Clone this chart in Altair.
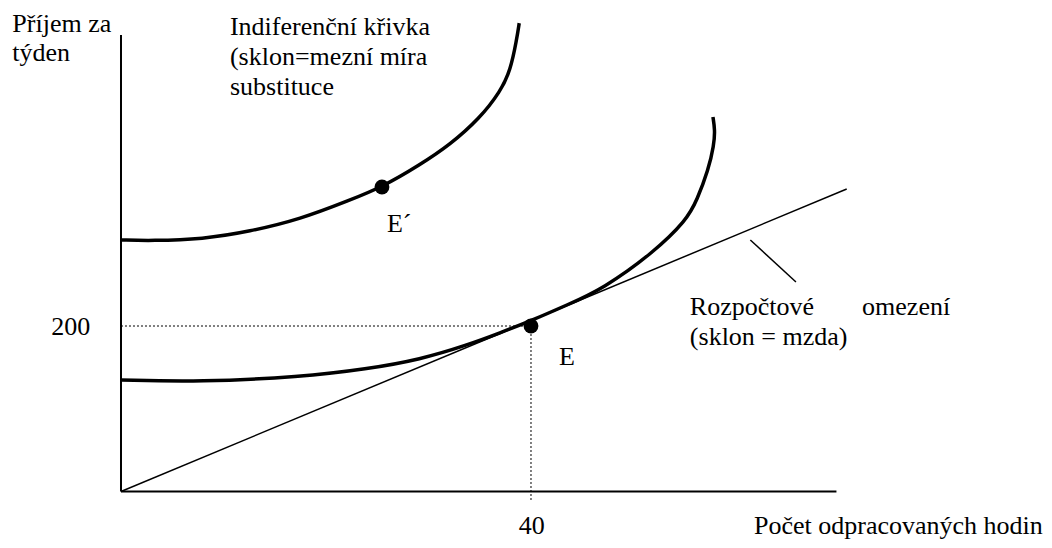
import altair as alt
import pandas as pd

# Indifference curves (hours worked, weekly income)
upper_h = [0, 3, 8, 12.5, 17.5, 22.3, 25.5, 29.2, 32.1, 35, 37, 38, 38.6, 38.85]
upper_i = [304, 303, 305, 314, 329, 352, 368, 395, 419, 451, 483, 509, 546, 566]
lower_h = [0, 7.7, 17.5, 24, 29.2, 33.8, 37, 40, 43.5, 47, 51.9, 55.2, 56.2, 57.3, 57.85, 57.95, 57.75]
lower_i = [134.7, 132.3, 138.4, 148, 159.5, 177, 191.7, 206.4, 225.3, 244.8, 288.2, 328.1, 352.3, 388.5, 418.7, 436.9, 452.6]

# Budget line end points
budget_h = [0, 70.8]
budget_i = [0, 365.6]

# Equilibrium points
pt_names = ["E´", "E"]
pt_h = [25.46, 40]
pt_i = [368, 200]

# Axes frame
axis_x = [0, 0]
axis_y = [0, 0]
axis_x2 = [0, 69.8]
axis_y2 = [551.7, 0]

# Dotted guides
guide_x = [0, 40]
guide_y = [200, 200]
guide_x2 = [40, 40]
guide_y2 = [200, -10.3]

# Pointer to budget line
ptr_x, ptr_y, ptr_x2, ptr_y2 = [61.4], [303.9], [65.85], [253.2]

# Labels
lab_text = ["Příjem za", "týden", "Indiferenční křivka", "(sklon=mezní míra", "substituce",
            "Rozpočtové", "omezení", "(sklon = mzda)", "200", "40",
            "Počet odpracovaných hodin", "E´", "E"]
lab_h = [-10.6, -10.6, 10.63, 10.63, 10.63, 55.5, 72.3, 55.5, -6.8, 38.8, 61.76, 25.95, 42.73]
lab_i = [555.3, 520.2, 551.7, 515.4, 479.2, 213.3, 213.3, 177.0, 189.1, -51.4, -51.4, 313.6, 152.9]

XD = [-11.024, 90.049]
YD = [-58.61, 584.29]
xs = alt.Scale(domain=XD, nice=False, zero=False)
ys = alt.Scale(domain=YD, nice=False, zero=False)

curves = pd.DataFrame(
    {"h": upper_h + lower_h,
     "inc": upper_i + lower_i,
     "curve": ["upper"] * len(upper_h) + ["lower"] * len(lower_h),
     "ord": list(range(len(upper_h))) + list(range(len(lower_h)))}
)
budget = pd.DataFrame({"h": [budget_h[0]], "inc": [budget_i[0]], "h2": [budget_h[1]], "inc2": [budget_i[1]]})
axes_df = pd.DataFrame({"h": axis_x, "inc": axis_y, "h2": axis_x2, "inc2": axis_y2})
guides = pd.DataFrame({"h": guide_x, "inc": guide_y, "h2": guide_x2, "inc2": guide_y2})
ptr = pd.DataFrame({"h": ptr_x, "inc": ptr_y, "h2": ptr_x2, "inc2": ptr_y2})
pts = pd.DataFrame({"name": pt_names, "h": pt_h, "inc": pt_i})

FONT = "Liberation Serif"

def seg(df, **kw):
    return alt.Chart(df).mark_rule(color="black", clip=False, **kw).encode(
        x=alt.X("h:Q", scale=xs, axis=None),
        y=alt.Y("inc:Q", scale=ys, axis=None),
        x2="h2:Q", y2="inc2:Q",
    )

axes_layer = seg(axes_df, strokeWidth=2)
budget_layer = seg(budget, strokeWidth=1.5)
ptr_layer = seg(ptr, strokeWidth=1.5)
guide_layer = seg(guides, strokeWidth=1, strokeDash=[2, 2])

curve_layer = alt.Chart(curves).mark_line(
    color="black", strokeWidth=3.5, interpolate="basis", clip=False
).encode(
    x=alt.X("h:Q", scale=xs, axis=None),
    y=alt.Y("inc:Q", scale=ys, axis=None),
    detail="curve:N",
    order="ord:Q",
)

pt_layer = alt.Chart(pts).mark_circle(color="black", size=220, opacity=1).encode(
    x=alt.X("h:Q", scale=xs, axis=None),
    y=alt.Y("inc:Q", scale=ys, axis=None),
)

text_layers = []
for t, hv, iv in zip(lab_text, lab_h, lab_i):
    df = pd.DataFrame({"t": [t], "h": [hv], "inc": [iv]})
    text_layers.append(
        alt.Chart(df).mark_text(
            align="left", baseline="alphabetic", font=FONT, fontSize=26, color="black"
        ).encode(
            x=alt.X("h:Q", scale=xs, axis=None),
            y=alt.Y("inc:Q", scale=ys, axis=None),
            text="t:N",
        )
    )

chart = alt.layer(
    axes_layer, guide_layer, budget_layer, ptr_layer, curve_layer, pt_layer, *text_layers
).properties(
    width=1036, height=532, padding=0, autosize="none"
).configure(background="white").configure_view(stroke=None)

chart.save("out.html", embed_options={"renderer": "svg", "actions": False})
